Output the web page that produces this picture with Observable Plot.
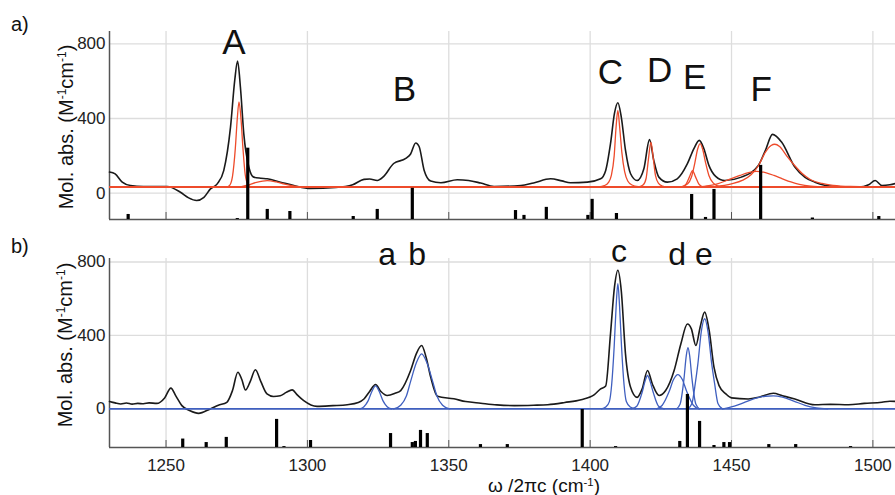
<!DOCTYPE html>
<html><head><meta charset="utf-8">
<script src="https://cdn.jsdelivr.net/npm/d3@7"></script>
<script src="https://cdn.jsdelivr.net/npm/@observablehq/plot@0.6"></script>
<style>
body{margin:0;background:#fff;font-family:"Liberation Sans",Arial,sans-serif;}
#wrap{position:relative;width:895px;height:495px;overflow:hidden;background:#fff;}
.abs{position:absolute;white-space:nowrap;color:#111;line-height:1;}
.ylab{font-size:20px;transform:translate(-50%,-50%) rotate(-90deg);}
.sup{font-size:0.6em;position:relative;top:-0.6em;}
.xsup{font-size:0.6em;position:relative;top:-0.5em;line-height:0;}
</style></head>
<body><div id="wrap">
<div id="pa" class="abs" style="left:0;top:0"></div>
<div id="pb" class="abs" style="left:0;top:228px"></div>
<div class="abs" style="left:11px;top:14px;font-size:20px">a)</div>
<div class="abs" style="left:11px;top:236px;font-size:20px">b)</div>
<div class="abs ylab" style="left:66px;top:127px">Mol. abs. (M<span class="sup">-1</span>cm<span class="sup">-1</span>)</div>
<div class="abs ylab" style="left:65px;top:345px">Mol. abs. (M<span class="sup">-1</span>cm<span class="sup">-1</span>)</div>
<div class="abs" style="left:544px;top:476px;font-size:19px;transform:translateX(-50%)">ω /2πc (cm<span class="xsup">-1</span>)</div>
</div>
<script>
// ---- axes ----
const xTicks = [1250, 1300, 1350, 1400, 1450, 1500];
const yTicks = [0, 400, 800];
const xDomain = [1230, 1508];
const yDomainA = [-141, 866];
const yDomainB = [-210, 819];

// ---- panel a: measured spectrum ----
const specA = [[1230,113],[1232,103],[1234.5,59],[1237.4,41],[1242,36],[1250.4,36],[1255.1,5],[1258,-25],[1260.8,-39],[1263.4,-22],[1265.7,23],[1268.1,50],[1270.4,121],[1272.8,354],[1274.3,606],[1275.3,708],[1276.3,569],[1277.5,318],[1279.3,139],[1281,86],[1283.5,80],[1285.8,77],[1290.5,59],[1295.2,41],[1301,25],[1310,30],[1316,45],[1320,74],[1322,76],[1324.7,68],[1327,90],[1330.5,159],[1334.8,186],[1336.5,210],[1338.3,269],[1339.5,250],[1341.3,122],[1343.6,65],[1347.2,56],[1353,72],[1357,68],[1361.3,54],[1366,36],[1375.5,41],[1380,55],[1386,77],[1390,66],[1393,56],[1399,59],[1403.7,77],[1405.5,122],[1407.2,265],[1408.6,427],[1409.8,484],[1411,409],[1412.5,230],[1414.3,104],[1416.6,68],[1419,131],[1421,287],[1422.5,176],[1424.3,86],[1427.3,59],[1430.8,77],[1434.4,158],[1436.7,239],[1438.6,283],[1440.2,239],[1442,149],[1444.4,90],[1447.6,68],[1453.5,86],[1459.5,149],[1462,230],[1464.5,315],[1467.7,274],[1472.4,140],[1476,85],[1479.5,59],[1486.6,36],[1495,33],[1498.5,45],[1500.8,68],[1503.2,41],[1506,45],[1508,52]];

// ---- panel a: fitted components (red) ----
const fitOffsetA = 33;
const fitA1 = [[1271.5,33],[1272.5,42],[1273.5,90],[1274.5,240],[1275.2,400],[1275.8,489],[1276.5,400],[1277.2,240],[1278,100],[1279,45],[1280,34]];
const fitA2 = [[1276,33],[1279,44],[1282,58],[1285.8,67],[1289,60],[1292,48],[1295,39],[1298,34],[1302,33]];
const fitC = [[1403,33],[1405,40],[1406.5,58],[1407.5,95],[1408.5,200],[1409.2,360],[1409.8,443],[1410.4,360],[1411.2,220],[1412.2,115],[1413.3,65],[1414.8,44],[1417,35]];
const fitD = [[1417,33],[1418.8,45],[1419.8,80],[1420.6,180],[1421.5,273],[1422.3,190],[1423.1,95],[1424.2,52],[1425.6,38],[1427,33]];
const fitE1 = [[1432.5,33],[1434,50],[1435.2,90],[1436.2,121],[1437.2,90],[1438.4,50],[1439.5,35]];
const fitE2 = [[1432,33],[1434.5,50],[1435.8,85],[1437,160],[1438,235],[1438.9,265],[1439.8,235],[1440.8,165],[1442,95],[1443.5,55],[1445,39],[1447,33]];
const fitF1 = [[1438,33],[1442,40],[1445,50],[1449,72],[1453,95],[1456,110],[1458.9,117],[1462,110],[1465,95],[1468,77],[1471,60],[1474,47],[1478,38],[1484,34]];
const fitF2 = [[1444,35],[1450,50],[1454,70],[1457,100],[1459.5,147],[1462,220],[1464,255],[1465.3,262],[1467,250],[1469.5,200],[1472.4,147],[1475,105],[1478,72],[1482,52],[1486,42],[1492,36],[1500,34]];
const fitsA = [fitA1, fitA2, fitC, fitD, fitE1, fitE2, fitF1, fitF2];

// ---- panel a: computed sticks ----
const stickXA = [1236.6,1275.2,1278.9,1285.8,1293.8,1316.2,1324.7,1337.1,1373.6,1376.6,1384.5,1399.2,1400.7,1409.3,1435.9,1440.8,1443.8,1460.3,1478.6,1502.1];
const stickHA = [27,5,382,54,43,16,54,167,48,22,65,22,108,32,134,11,161,290,8,16];

const labelsA = ["A","B","C","D","E","F"];
const labelXA = [1274,1334.3,1407.2,1424.6,1437,1460.5];
const labelYA = [748,493,586,594,559,496];

// ---- panel b: measured spectrum ----
const specB = [[1230,41],[1232,33],[1234,27],[1236,32],[1238,26],[1240,30],[1242,28],[1244,33],[1246.7,30],[1249.5,60],[1251.7,113],[1253.5,70],[1255.6,18],[1258.5,-10],[1261.5,-24],[1265.6,0],[1268.5,20],[1271.5,36],[1273.5,100],[1275.4,200],[1276.8,160],[1278.1,103],[1279.8,150],[1281.6,213],[1283.5,150],[1285.7,82],[1288,68],[1290.4,72],[1292.5,90],[1294.6,104],[1296.5,75],[1298.7,45],[1303.4,14],[1309,18],[1314.1,23],[1318,35],[1320,54],[1322,95],[1324.1,133],[1326,95],[1328.2,73],[1331,85],[1333,100],[1336.5,209],[1338.5,300],[1340.4,345],[1342,280],[1343.6,173],[1346,69],[1351.8,55],[1356,40],[1361.3,31],[1367,22],[1373.2,18],[1380,20],[1385,23],[1391,35],[1396.8,50],[1401.5,78],[1403.7,109],[1405.5,125],[1407.2,409],[1408.6,663],[1409.8,755],[1411,645],[1412.5,300],[1414.3,118],[1416.6,63],[1418.4,109],[1420.3,209],[1422,136],[1424.4,73],[1426.7,100],[1429.7,209],[1432.1,355],[1434.4,462],[1435.8,436],[1437.4,345],[1438.9,445],[1440.5,527],[1442.1,427],[1443.8,227],[1445.6,127],[1448,82],[1450,60],[1455.9,54],[1460,65],[1464.8,85],[1468,72],[1472.4,54],[1479.5,23],[1485,25],[1491.4,23],[1497,30],[1503.2,36],[1506,42],[1508,41]];

// ---- panel b: fitted components (blue) ----
const fitOffsetB = 0;
const fitBa = [[1318.5,0],[1320,12],[1321.5,45],[1322.8,95],[1324.1,125],[1325.4,95],[1326.7,45],[1328.2,12],[1329.8,0]];
const fitBb = [[1330.5,0],[1333,20],[1335,70],[1336.5,150],[1338.5,250],[1340.4,300],[1342.3,250],[1344.3,150],[1345.8,70],[1347.8,20],[1350.3,0]];
const fitBc = [[1404,0],[1405.5,10],[1406.8,40],[1407.6,130],[1408.5,340],[1409.2,560],[1409.8,682],[1410.4,560],[1411.1,340],[1412,130],[1412.8,40],[1414.2,10],[1416,0]];
const fitB1421 = [[1414.5,0],[1416.5,15],[1418.4,91],[1419.4,150],[1420.3,182],[1421.2,150],[1422.3,91],[1424.2,15],[1426.2,0]];
const fitB1431 = [[1423.5,0],[1425.5,20],[1427.9,93],[1429.5,160],[1431,187],[1432.6,160],[1434.2,93],[1436.5,20],[1438.5,0]];
const fitBd = [[1430.5,0],[1431.8,25],[1433.2,166],[1434,290],[1434.6,333],[1435.2,290],[1436,166],[1437.4,25],[1438.7,0]];
const fitBe = [[1434.5,0],[1436,30],[1437.2,140],[1438.1,245],[1439.3,420],[1440.5,491],[1441.7,420],[1443,245],[1444,140],[1445.2,30],[1446.8,0]];
const fitB1464 = [[1447,0],[1451,15],[1455,38],[1459,60],[1462,69],[1464.8,71],[1468,64],[1472,43],[1476,20],[1480,6],[1484,0]];
const fitsB = [fitBa, fitBb, fitBc, fitB1421, fitB1431, fitBd, fitBe, fitB1464];

// ---- panel b: computed sticks ----
const stickXB = [1255.9,1264.2,1271.3,1289.1,1291.7,1301.1,1329.4,1337.1,1338.2,1340,1342.4,1361.2,1370.7,1397.2,1409,1431.7,1434.4,1438.7,1443.8,1447.3,1449.3,1463.2,1472.7,1492.1];
const stickHB = [46,27,55,153,5,38,76,27,33,93,76,16,16,207,5,33,289,142,11,27,27,16,16,5];

const labelsB = ["a","b","c","d","e"];
const labelXB = [1328.2,1338.8,1410.2,1430.8,1440.2];
const labelYB = [782,782,800,782,782];

const RED = "#ee4b2b", BLUE = "#3f5fbf", FONT = "Liberation Sans, Arial, sans-serif";

function panel(o) {
  const sticks = o.stickX.map((x, i) => ({x, h: o.stickH[i]}));
  const labels = o.labels.map((t, i) => ({t, x: o.labelX[i], y: o.labelY[i]}));
  const y0 = o.yDomain[0];
  return Plot.plot({
    width: 895, height: o.height,
    marginLeft: 109, marginRight: 0, marginTop: o.mt, marginBottom: o.mb,
    x: {domain: xDomain},
    y: {domain: o.yDomain},
    style: {fontFamily: FONT, fontSize: "17px", color: "#222", background: "transparent", overflow: "visible"},
    marks: [
      Plot.gridX(xTicks, {stroke: "#dddddd", strokeOpacity: 1, strokeWidth: 1.3}),
      Plot.gridY(yTicks, {stroke: "#dddddd", strokeOpacity: 1, strokeWidth: 1.3}),
      Plot.axisY(yTicks, {tickSize: 0, tickPadding: 4, label: null, fontSize: 17, tickFormat: d => String(d)}),
      Plot.axisX(xTicks, {tickSize: 7, dy: -7, tickFormat: () => "", label: null, stroke: "#555"}),
      o.tickLabels ? Plot.axisX(xTicks, {tickSize: 0, tickPadding: 11.5, label: null, fontSize: 17, tickFormat: d => String(d)}) : null,
      Plot.ruleX([xDomain[0]], {stroke: "#555", strokeWidth: 1.5}),
      Plot.ruleY([y0], {stroke: "#555", strokeWidth: 1.5}),
      Plot.line(o.spec, {x: d => d[0], y: d => d[1], stroke: "#1a1a1a", strokeWidth: 1.6, curve: "monotone-x"}),
      ...o.fits.map(f => Plot.line(f, {x: d => d[0], y: d => d[1], stroke: o.color, strokeWidth: 1.3, curve: "monotone-x"})),
      Plot.ruleY([o.offset], {stroke: o.color, strokeWidth: 1.8}),
      Plot.ruleX(sticks, {x: "x", y1: y0, y2: d => y0 + d.h, stroke: "#000", strokeWidth: 3.2}),
      Plot.text(labels, {x: "x", y: "y", text: "t", fontSize: o.labelSize, lineAnchor: "bottom", fill: "#111", fontFamily: FONT})
    ].filter(Boolean)
  });
}

document.getElementById("pa").appendChild(panel({
  height: 228, mt: 31, mb: 9, yDomain: yDomainA, spec: specA, fits: fitsA, color: RED, offset: fitOffsetA,
  stickX: stickXA, stickH: stickHA, labels: labelsA, labelX: labelXA, labelY: labelYA, labelSize: 35, tickLabels: false
}));
document.getElementById("pb").appendChild(panel({
  height: 267, mt: 30, mb: 48, yDomain: yDomainB, spec: specB, fits: fitsB, color: BLUE, offset: fitOffsetB,
  stickX: stickXB, stickH: stickHB, labels: labelsB, labelX: labelXB, labelY: labelYB, labelSize: 32, tickLabels: true
}));
</script>
</body></html>
